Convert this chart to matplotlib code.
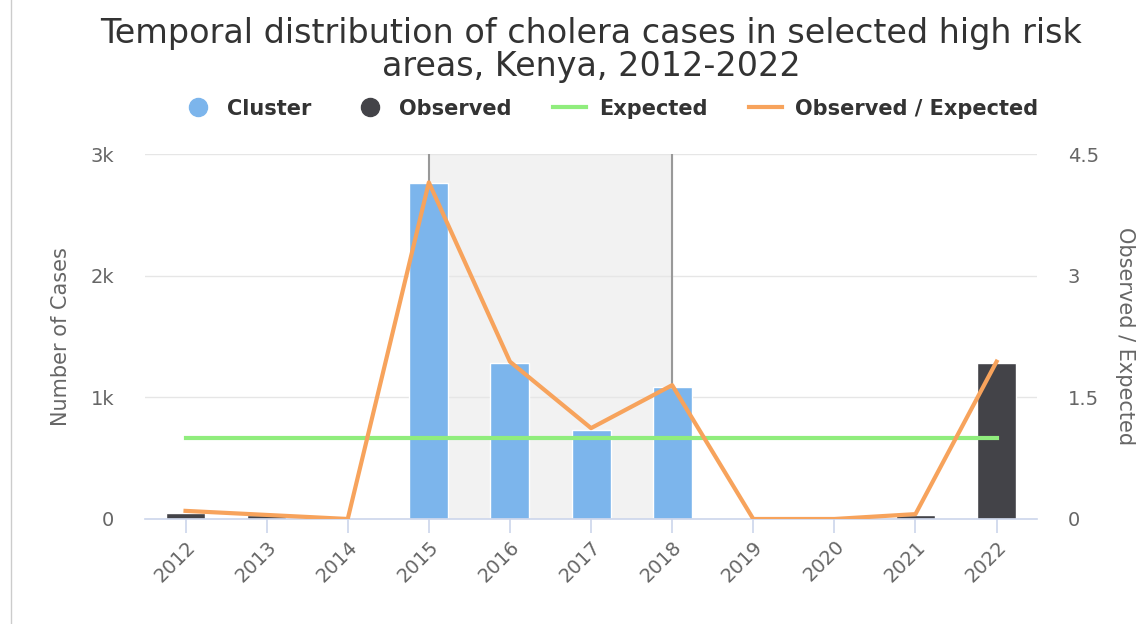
import matplotlib
matplotlib.use("Agg")
import matplotlib.pyplot as plt
import numpy as np
from matplotlib.lines import Line2D

years = ["2012", "2013", "2014", "2015", "2016", "2017", "2018",
         "2019", "2020", "2021", "2022"]
cluster = [0, 0, 0, 2760, 1280, 730, 1085, 0, 0, 0, 0]
observed = [50, 30, 0, 0, 0, 0, 0, 0, 0, 30, 1280]
expected = [1, 1, 1, 1, 1, 1, 1, 1, 1, 1, 1]
ratio = [0.1, 0.05, 0.0, 4.15, 1.94, 1.12, 1.65, 0.0, 0.0, 0.06, 1.94]
band_start, band_end = "2015", "2018"

C_CLUSTER = "#7cb5ec"
C_OBS = "#434348"
C_EXP = "#90ed7d"
C_RATIO = "#f7a35c"
C_TEXT = "#666666"

fig = plt.figure(figsize=(11.46, 6.24), dpi=100)
ax = fig.add_axes([0.1265, 0.1683, 0.7785, 0.5849])
ax2 = ax.twinx()

x = np.arange(len(years))
b0 = years.index(band_start)
b1 = years.index(band_end)

# shaded cluster period
ax.axvspan(b0, b1, color="#f2f2f2", zorder=0)
ax.axvline(b0, color="#999999", lw=1.5, zorder=1)
ax.axvline(b1, color="#999999", lw=1.5, zorder=1)

# gridlines
for v in [1000, 2000, 3000]:
    ax.axhline(v, color="#e6e6e6", lw=1, zorder=0.5)

w = 0.48
ax.bar(x, cluster, width=w, color=C_CLUSTER, edgecolor="white", lw=1, zorder=2)
ax.bar(x, observed, width=w, color=C_OBS, edgecolor="white", lw=1, zorder=2)

ax.set_xlim(-0.5, len(years) - 0.5)
ax.set_ylim(0, 3000)
ax.set_yticks([0, 1000, 2000, 3000])
ax.set_yticklabels(["0", "1k", "2k", "3k"])
ax.set_xticks(x)
ax.set_xticklabels(years, rotation=45, ha="right", rotation_mode="anchor")

ax2.plot(x, expected, color=C_EXP, lw=3, zorder=3)
ax2.plot(x, ratio, color=C_RATIO, lw=3, zorder=4)
ax2.set_ylim(0, 4.5)
ax2.set_yticks([0, 1.5, 3, 4.5])
ax2.set_yticklabels(["0", "1.5", "3", "4.5"])

ax.set_zorder(ax2.get_zorder() - 1)
ax.patch.set_visible(False)

for a in (ax, ax2):
    for s in a.spines.values():
        s.set_visible(False)
ax.spines["bottom"].set_visible(True)
ax.spines["bottom"].set_color("#ccd6eb")
ax.spines["bottom"].set_linewidth(1.2)

ax.tick_params(axis="x", colors="#ccd6eb", length=10, width=1.2, pad=3,
               labelcolor=C_TEXT, labelsize=14)
ax.tick_params(axis="y", length=0, labelcolor=C_TEXT, labelsize=14, pad=22)
ax2.tick_params(axis="y", length=0, labelcolor=C_TEXT, labelsize=14, pad=22)

ax.set_ylabel("Number of Cases", color=C_TEXT, fontsize=15, labelpad=14)
ax2.set_ylabel("Observed / Expected", color=C_TEXT, fontsize=15, rotation=270,
               labelpad=26)

fig.text(0.516, 0.947, "Temporal distribution of cholera cases in selected high risk",
         ha="center", va="center", fontsize=24, color="#333333")
fig.text(0.516, 0.893, "areas, Kenya, 2012-2022",
         ha="center", va="center", fontsize=24, color="#333333")

handles = [
    Line2D([], [], marker="o", ls="none", ms=13, color=C_CLUSTER),
    Line2D([], [], marker="o", ls="none", ms=13, color=C_OBS),
    Line2D([], [], color=C_EXP, lw=3),
    Line2D([], [], color=C_RATIO, lw=3),
]
labels = ["Cluster", "Observed", "Expected", "Observed / Expected"]
leg = fig.legend(handles, labels, loc="center", bbox_to_anchor=(0.532, 0.826),
                 ncol=4, frameon=False, fontsize=15, handlelength=1.6,
                 columnspacing=2.0, handletextpad=0.6)
for t in leg.get_texts():
    t.set_color("#333333")
    t.set_fontweight("bold")

# container border on the left
fig.add_artist(Line2D([0.0096, 0.0096], [0, 1], color="#cccccc", lw=1,
                      transform=fig.transFigure))

fig.savefig("out.png", dpi=100)
